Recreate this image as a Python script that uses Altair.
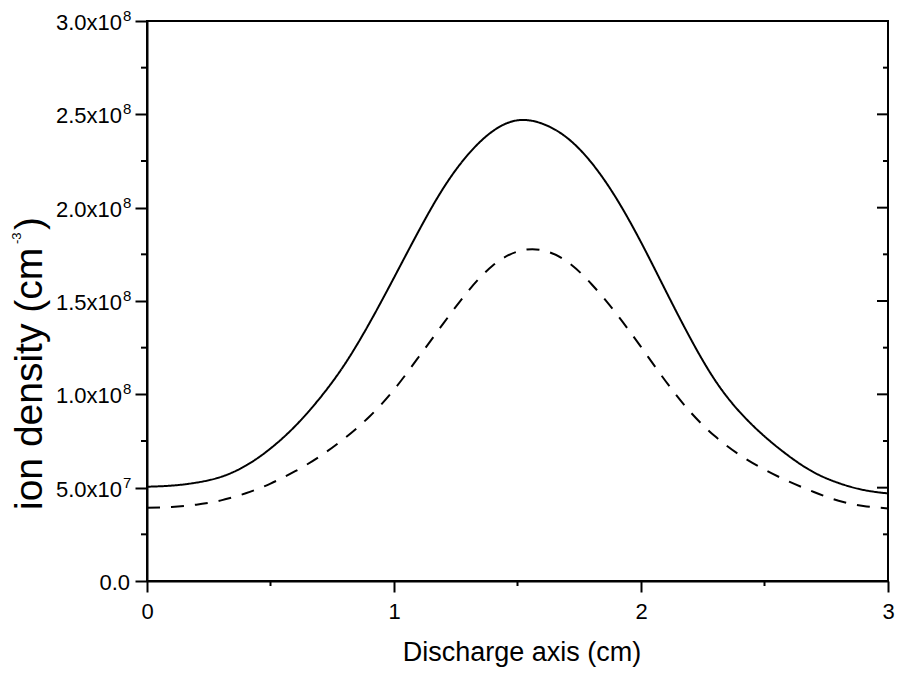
import altair as alt
import pandas as pd

# ---- data ----
solid_x = [0, 0.1, 0.2, 0.3, 0.4, 0.5, 0.6, 0.7, 0.8, 0.9, 1.0, 1.1, 1.2, 1.3, 1.4,
           1.5, 1.6, 1.7, 1.8, 1.9, 2.0, 2.1, 2.2, 2.3, 2.4, 2.5, 2.6, 2.7, 2.8, 2.9, 3.0]
solid_y = [0.505e8, 0.511e8, 0.527e8, 0.558e8, 0.618e8, 0.710e8, 0.830e8, 0.980e8,
           1.160e8, 1.380e8, 1.625e8, 1.875e8, 2.105e8, 2.285e8, 2.410e8, 2.468e8,
           2.450e8, 2.375e8, 2.240e8, 2.050e8, 1.815e8, 1.555e8, 1.300e8, 1.075e8,
           0.905e8, 0.775e8, 0.668e8, 0.582e8, 0.525e8, 0.488e8, 0.469e8]

dashed_x = [0, 0.1, 0.2, 0.3, 0.4, 0.5, 0.6, 0.7, 0.8, 0.9, 1.0, 1.1, 1.2, 1.3, 1.4,
            1.5, 1.6, 1.7, 1.8, 1.9, 2.0, 2.1, 2.2, 2.3, 2.4, 2.5, 2.6, 2.7, 2.8, 2.9, 3.0]
dashed_y = [0.392e8, 0.397e8, 0.409e8, 0.432e8, 0.470e8, 0.522e8, 0.588e8, 0.668e8,
            0.765e8, 0.880e8, 1.025e8, 1.200e8, 1.380e8, 1.553e8, 1.690e8, 1.765e8,
            1.772e8, 1.712e8, 1.590e8, 1.432e8, 1.254e8, 1.070e8, 0.905e8, 0.775e8,
            0.675e8, 0.597e8, 0.532e8, 0.477e8, 0.430e8, 0.402e8, 0.389e8]

x_major = [0, 1, 2, 3]
x_minor = [0.5, 1.5, 2.5]
y_major = [0, 0.5e8, 1.0e8, 1.5e8, 2.0e8, 2.5e8, 3.0e8]
y_mantissa = ["0.0", "5.0x10", "1.0x10", "1.5x10", "2.0x10", "2.5x10", "3.0x10"]
y_exponent = ["", "7", "8", "8", "8", "8", "8"]
y_minor = [0.25e8, 0.75e8, 1.25e8, 1.75e8, 2.25e8, 2.75e8]

x_title = "Discharge axis (cm)"
y_title_main = "ion density (cm"
y_title_sup = "-3"
y_title_end = ")"

FONT = "Liberation Sans, Arial, sans-serif"
W, H = 741, 560
OX = 147  # plot origin x on the page (for placing the free texts)

curves = pd.concat([
    pd.DataFrame({"x": solid_x, "y": solid_y, "series": "solid"}),
    pd.DataFrame({"x": dashed_x, "y": dashed_y, "series": "dashed"}),
])
yticks = pd.DataFrame({"v": y_major, "m": y_mantissa, "e": y_exponent})

xs = alt.Scale(domain=[0, 3], nice=False, zero=False)
ys = alt.Scale(domain=[0, 3e8], nice=False)

xaxis = alt.Axis(values=x_major, tickSize=11, tickWidth=2, tickColor="black",
                 domainWidth=2, domainColor="black", labelFont=FONT, labelFontSize=22,
                 labelColor="black", labelBaseline="alphabetic", labelPadding=26,
                 labelFlush=False, format="d", grid=False, title=None)
yaxis = alt.Axis(values=y_major, tickSize=12, tickWidth=2, tickColor="black",
                 domainWidth=2, domainColor="black", labels=False, grid=False, title=None)

lines = alt.Chart(curves).mark_line(color="black", strokeWidth=2, interpolate="natural").encode(
    x=alt.X("x:Q", scale=xs, axis=xaxis),
    y=alt.Y("y:Q", scale=ys, axis=yaxis),
    strokeDash=alt.StrokeDash("series:N",
                              scale=alt.Scale(domain=["solid", "dashed"], range=[[1, 0], [13, 11]]),
                              legend=None),
)

rule_style = dict(color="black", strokeWidth=2)
left_minor = alt.Chart(pd.DataFrame({"v": y_minor})).mark_rule(**rule_style).encode(
    y=alt.Y("v:Q", scale=ys, axis=yaxis), x=alt.value(-6), x2=alt.value(0))
right_major = alt.Chart(pd.DataFrame({"v": y_major})).mark_rule(**rule_style).encode(
    y=alt.Y("v:Q", scale=ys, axis=yaxis), x=alt.value(W - 11), x2=alt.value(W))
right_minor = alt.Chart(pd.DataFrame({"v": y_minor})).mark_rule(**rule_style).encode(
    y=alt.Y("v:Q", scale=ys, axis=yaxis), x=alt.value(W - 5), x2=alt.value(W))
bottom_minor = alt.Chart(pd.DataFrame({"v": x_minor})).mark_rule(**rule_style).encode(
    x=alt.X("v:Q", scale=xs, axis=xaxis), y=alt.value(H), y2=alt.value(H + 5))

base_t = alt.Chart(yticks)
lab_main = base_t.transform_filter("datum.e != ''").mark_text(
    font=FONT, fontSize=22, align="right", baseline="alphabetic", dy=9, color="black").encode(
    y=alt.Y("v:Q", scale=ys, axis=yaxis), x=alt.value(122 - OX), text="m:N")
lab_zero = base_t.transform_filter("datum.e == ''").mark_text(
    font=FONT, fontSize=22, align="right", baseline="alphabetic", dy=9, color="black").encode(
    y=alt.Y("v:Q", scale=ys, axis=yaxis), x=alt.value(130 - OX), text="m:N")
lab_exp = base_t.transform_filter("datum.e != ''").mark_text(
    font=FONT, fontSize=15, align="left", baseline="alphabetic", dy=0, color="black").encode(
    y=alt.Y("v:Q", scale=ys, axis=yaxis), x=alt.value(123 - OX), text="e:N")

xt = alt.Chart(pd.DataFrame({"t": [x_title]})).mark_text(
    font=FONT, fontSize=27, align="center", baseline="alphabetic", color="black").encode(
    x=alt.value(522 - OX), y=alt.value(640), text="t:N")
yt1 = alt.Chart(pd.DataFrame({"t": [y_title_main]})).mark_text(
    font=FONT, fontSize=39, angle=270, align="left", baseline="alphabetic", color="black").encode(
    x=alt.value(42 - OX), y=alt.value(489), text="t:N")
yt2 = alt.Chart(pd.DataFrame({"t": [y_title_sup]})).mark_text(
    font=FONT, fontSize=13, angle=270, align="left", baseline="alphabetic", color="black").encode(
    x=alt.value(21 - OX), y=alt.value(223), text="t:N")
yt3 = alt.Chart(pd.DataFrame({"t": [y_title_end]})).mark_text(
    font=FONT, fontSize=39, angle=270, align="left", baseline="alphabetic", color="black").encode(
    x=alt.value(42 - OX), y=alt.value(209), text="t:N")

chart = alt.layer(
    lines, left_minor, right_major, right_minor, bottom_minor,
    lab_main, lab_zero, lab_exp, xt, yt1, yt2, yt3
).properties(
    width=W, height=H,
    autosize=alt.AutoSizeParams(type="none"),
    padding={"left": OX - 8, "top": 13, "right": 7, "bottom": 86},
).configure_view(stroke="black", strokeWidth=2)

chart.save("out.html", embed_options={"renderer": "svg", "actions": False})
